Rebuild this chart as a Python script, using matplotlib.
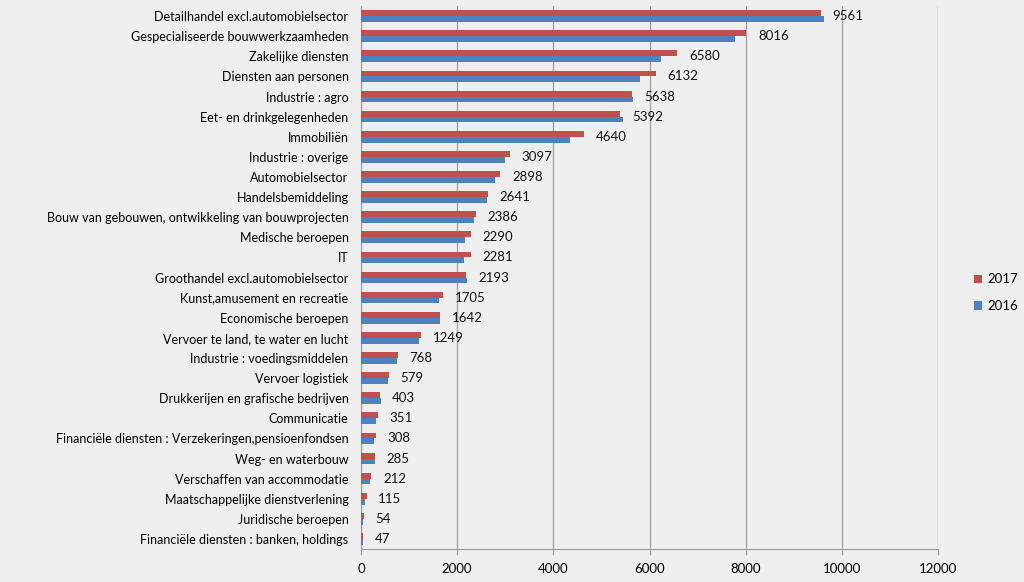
import matplotlib.pyplot as plt
import numpy as np

plt.rcParams['font.family'] = ['Lato', 'DejaVu Sans']

categories = [
    'Detailhandel excl.automobielsector',
    'Gespecialiseerde bouwwerkzaamheden',
    'Zakelijke diensten',
    'Diensten aan personen',
    'Industrie : agro',
    'Eet- en drinkgelegenheden',
    'Immobiliën',
    'Industrie : overige',
    'Automobielsector',
    'Handelsbemiddeling',
    'Bouw van gebouwen, ontwikkeling van bouwprojecten',
    'Medische beroepen',
    'IT',
    'Groothandel excl.automobielsector',
    'Kunst,amusement en recreatie',
    'Economische beroepen',
    'Vervoer te land, te water en lucht',
    'Industrie : voedingsmiddelen',
    'Vervoer logistiek',
    'Drukkerijen en grafische bedrijven',
    'Communicatie',
    'Financiële diensten : Verzekeringen,pensioenfondsen',
    'Weg- en waterbouw',
    'Verschaffen van accommodatie',
    'Maatschappelijke dienstverlening',
    'Juridische beroepen',
    'Financiële diensten : banken, holdings',
]
values_2017 = [9561, 8016, 6580, 6132, 5638, 5392, 4640, 3097, 2898, 2641, 2386,
               2290, 2281, 2193, 1705, 1642, 1249, 768, 579, 403, 351, 308, 285,
               212, 115, 54, 47]
values_2016 = [9630, 7770, 6230, 5800, 5660, 5450, 4350, 2990, 2790, 2630, 2340,
               2160, 2150, 2200, 1630, 1650, 1200, 750, 560, 410, 310, 270, 300,
               190, 90, 50, 45]
xticks = [0, 2000, 4000, 6000, 8000, 10000, 12000]

red = '#C0504D'
blue = '#4F81BD'
bg = '#EFEFEF'

fig = plt.figure(figsize=(10.24, 5.82), dpi=100, facecolor=bg)
ax = fig.add_axes([361 / 1024, 33 / 582, 577 / 1024, 543 / 582], facecolor=bg)

y = np.arange(len(categories))
h = 0.29
ax.barh(y - h / 2, values_2017, height=h, color=red, label='2017', zorder=3)
ax.barh(y + h / 2, values_2016, height=h, color=blue, label='2016', zorder=3)

for yi, v in zip(y, values_2017):
    ax.annotate(str(v), (v, yi), xytext=(8.5, 0), textcoords='offset points',
                va='center', ha='left', fontsize=9.5, color='#111111')

ax.set_xlim(0, 12000)
ax.set_ylim(len(categories) - 0.5, -0.5)
ax.set_xticks(xticks)
ax.set_xticklabels([str(t) for t in xticks], fontsize=9.5)
ax.set_yticks(y)
ax.set_yticklabels(categories, fontsize=9)
ax.tick_params(axis='y', length=0, pad=9)
ax.tick_params(axis='x', length=4, color='#999999', pad=6)
ax.grid(axis='x', color='#A6A6A6', linewidth=1, zorder=0)
for s in ['top', 'right']:
    ax.spines[s].set_visible(False)
for s in ['left', 'bottom']:
    ax.spines[s].set_color('#999999')

fig.legend(loc='center left', bbox_to_anchor=(962 / 1024, 0.497), frameon=False,
           fontsize=9.5, handlelength=0.6, handleheight=0.6, handletextpad=0.4,
           labelspacing=1.1)

fig.savefig('out.png', dpi=100, facecolor=bg)
